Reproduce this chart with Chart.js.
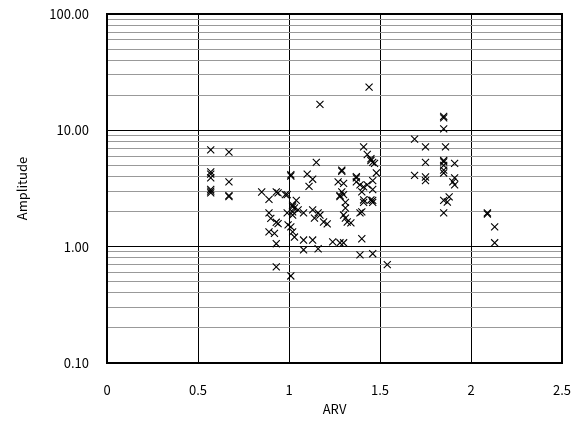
<!DOCTYPE html>
<html>
<head>
<meta charset="utf-8">
<script src="https://cdn.jsdelivr.net/npm/chart.js@4.4.1/dist/chart.umd.min.js"></script>
<style>
  html, body { margin: 0; padding: 0; background: #fff; }
  #wrap { width: 578px; height: 425px; }
</style>
</head>
<body>
<div id="wrap"><canvas id="scatterChart" width="578" height="425"></canvas></div>
<script>
'use strict'

// ARV (x) / Amplitude (y)
const arv = [
  0.57, 0.57, 0.57, 0.57, 0.57, 0.57, 0.57,
  0.67, 0.67, 0.67, 0.67,
  0.85, 0.89, 0.93, 0.94, 0.98, 0.89, 0.90, 0.93, 0.94, 0.89, 0.92, 0.93, 0.93, 0.99, 0.995,
  1.01, 1.01, 0.99, 1.04, 1.02, 1.02, 1.03, 1.02, 1.02, 1.05, 1.01, 1.02, 1.03, 1.01,
  1.08, 1.10, 1.13, 1.11, 1.15, 1.13, 1.14, 1.17, 1.16, 1.19, 1.21, 1.08, 1.13, 1.08, 1.16, 1.17,
  1.24, 1.28, 1.30, 1.29, 1.29, 1.27, 1.30, 1.29, 1.28, 1.28, 1.30, 1.31, 1.31, 1.30, 1.31, 1.34, 1.32,
  1.37, 1.37, 1.37, 1.39, 1.41, 1.40, 1.41, 1.45, 1.40, 1.39, 1.41, 1.43, 1.45, 1.45, 1.47, 1.46,
  1.48, 1.43, 1.46, 1.46, 1.46, 1.41, 1.46, 1.40, 1.39, 1.46, 1.44, 1.54,
  1.85, 1.85, 1.85, 1.69, 1.75, 1.86, 1.75, 1.85, 1.85, 1.85, 1.91, 1.85, 1.85, 1.69, 1.75, 1.75,
  1.91, 1.90, 1.91, 1.88, 1.87, 1.85, 1.85, 2.09, 2.09, 2.13, 2.13
];
const amplitude = [
  6.8, 4.4, 4.2, 3.9, 3.1, 3.0, 2.9,
  6.5, 3.6, 2.75, 2.7,
  2.95, 2.55, 2.95, 2.9, 2.8, 1.95, 1.75, 1.62, 1.58, 1.34, 1.3, 1.06, 0.67, 1.95, 1.54,
  4.15, 4.05, 2.8, 2.5, 2.28, 2.2, 2.15, 1.99, 1.87, 2.07, 1.48, 1.34, 1.21, 0.56,
  1.95, 4.2, 3.8, 3.3, 5.3, 2.07, 1.76, 1.87, 1.95, 1.63, 1.57, 1.14, 1.14, 0.94, 0.96, 16.7,
  1.1, 1.08, 1.08, 4.55, 4.45, 3.6, 3.5, 2.96, 2.75, 2.7, 2.8, 2.4, 2.15, 1.87, 1.76, 1.6, 1.63,
  4.0, 3.9, 3.6, 3.4, 3.27, 2.96, 2.52, 2.52, 1.99, 1.95, 7.2, 6.2, 5.7, 5.5, 5.2, 5.3,
  4.3, 3.4, 3.7, 3.1, 2.5, 2.4, 2.4, 1.17, 0.85, 0.87, 23.5, 0.70,
  13.2, 12.8, 10.3, 8.4, 7.2, 7.2, 5.3, 5.5, 5.35, 5.0, 5.2, 4.55, 4.3, 4.1, 3.97, 3.7,
  3.9, 3.6, 3.4, 2.68, 2.42, 2.5, 1.95, 1.91, 1.95, 1.48, 1.08
];
const xTicks = [0, 0.5, 1, 1.5, 2, 2.5];
const yMajorTicks = [0.1, 1, 10, 100];

const FONT = "'Noto Sans CJK JP', 'Liberation Sans', sans-serif";

// toutes les graduations 1..9 par décade (lignes fines)
const yAllTicks = [];
for (let d = 0; d < yMajorTicks.length - 1; d++) {
  for (let k = 1; k < 10; k++) {
    yAllTicks.push(+(yMajorTicks[d] * k).toPrecision(3));
  }
}
yAllTicks.push(yMajorTicks[yMajorTicks.length - 1]);

const isMajor = v => yMajorTicks.some(m => Math.abs(m - v) < 1e-9);

const points = arv.map((x, i) => ({ x: x, y: amplitude[i] }));

// cadre noir autour de la zone de tracé
const framePlugin = {
  id: 'frame',
  afterDraw(chart) {
    const { ctx, chartArea: a } = chart;
    ctx.save();
    ctx.strokeStyle = '#000';
    ctx.lineWidth = 2;
    ctx.strokeRect(a.left, a.top, a.right - a.left, a.bottom - a.top);
    ctx.restore();
  }
};

const ctx = document.getElementById('scatterChart').getContext('2d');
const scatterChart = new Chart(ctx, {
  type: 'scatter',
  data: {
    datasets: [{
      data: points,
      pointStyle: 'crossRot',
      pointRadius: 5,
      pointHoverRadius: 5,
      borderColor: '#000',
      backgroundColor: '#000',
      borderWidth: 1.1
    }]
  },
  options: {
    responsive: false,
    animation: false,
    devicePixelRatio: 1,
    layout: { padding: { top: 14, right: 16, left: 0, bottom: 0 } },
    plugins: {
      legend: { display: false },
      tooltip: { enabled: false }
    },
    scales: {
      x: {
        type: 'linear',
        min: 0,
        max: 2.5,
        afterBuildTicks: scale => { scale.ticks = xTicks.map(v => ({ value: v })); },
        afterFit: scale => {
          scale.height = 62;
          scale.paddingLeft = 0;
          scale.paddingRight = 0;
        },
        grid: { color: '#000', lineWidth: 1, drawTicks: false },
        border: { display: false },
        ticks: {
          padding: 19,
          color: '#000',
          maxRotation: 0,
          autoSkip: false,
          font: { family: FONT, size: 13 },
          callback: v => String(v)
        },
        title: {
          display: true,
          text: 'ARV',
          color: '#000',
          font: { family: FONT, size: 13 },
          padding: { top: 0, bottom: 8 }
        }
      },
      y: {
        type: 'logarithmic',
        min: 0.1,
        max: 100,
        afterBuildTicks: scale => { scale.ticks = yAllTicks.map(v => ({ value: v, major: isMajor(v) })); },
        afterFit: scale => {
          scale.width = 107;
          scale.paddingTop = 0;
          scale.paddingBottom = 0;
        },
        grid: {
          drawTicks: false,
          color: c => (c.tick && isMajor(c.tick.value)) ? '#000' : '#999',
          lineWidth: 1
        },
        border: { display: false },
        ticks: {
          padding: 18,
          color: '#000',
          autoSkip: false,
          font: { family: FONT, size: 13 },
          callback: v => isMajor(v) ? v.toFixed(2) : ''
        },
        title: {
          display: true,
          text: 'Amplitude',
          color: '#000',
          font: { family: FONT, size: 13 },
          padding: { top: 14, bottom: 0 }
        }
      }
    }
  },
  plugins: [framePlugin]
});
</script>
</body>
</html>
